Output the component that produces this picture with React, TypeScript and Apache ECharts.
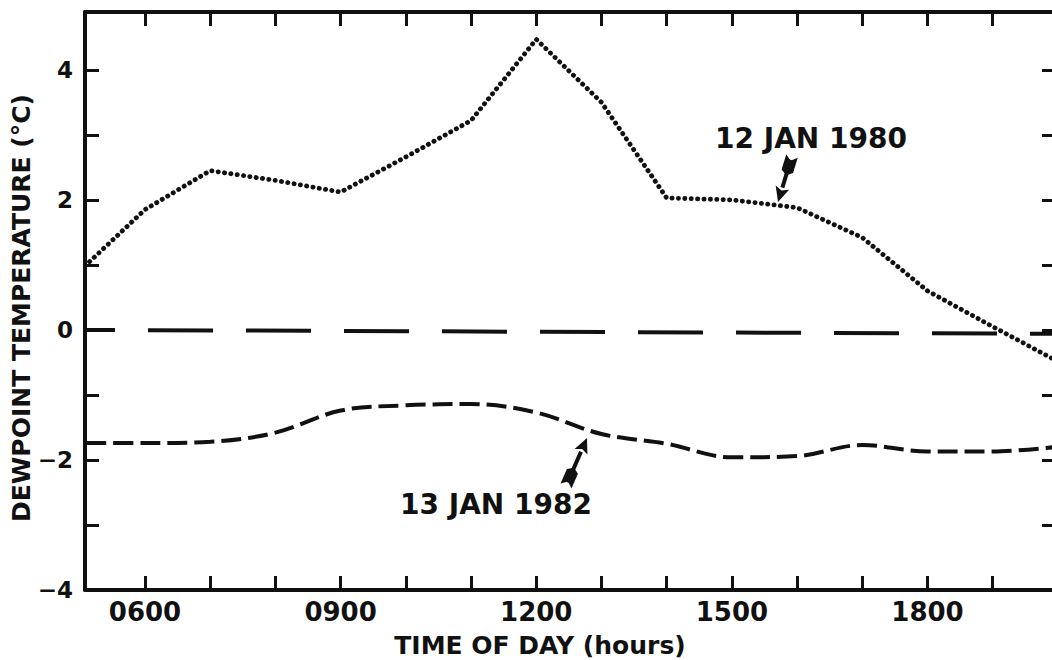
import React, { useEffect, useRef } from "react";
import * as echarts from "echarts";

// ---- data ----
const xMin = 5.08;
const xMax = 19.97;
const yMin = -4;
const yMax = 4.89;

const hourTicks = [6, 7, 8, 9, 10, 11, 12, 13, 14, 15, 16, 17, 18, 19];
const hourLabels = [6, 9, 12, 15, 18];
const tempTicks = [-4, -3, -2, -1, 0, 1, 2, 3, 4];
const tempLabels = [-4, -2, 0, 2, 4];

const hours1980 = [5.15, 6, 7, 8, 9, 10, 11, 12, 13, 14, 15, 16, 17, 18, 19, 19.97];
const dew1980 = [1.05, 1.85, 2.45, 2.3, 2.12, 2.66, 3.22, 4.47, 3.5, 2.03, 2.0, 1.88, 1.42, 0.6, 0.05, -0.47];

const hoursZero = [5.08, 19.97];
const dewZero = [0, -0.06];

const hours1982 = [5.1, 6, 7, 8, 9, 10, 11, 12, 13, 14, 15, 16, 17, 18, 19, 19.97];
const dew1982 = [-1.74, -1.74, -1.72, -1.58, -1.24, -1.16, -1.14, -1.27, -1.6, -1.75, -1.96, -1.94, -1.77, -1.87, -1.87, -1.8];

const label1980 = "12 JAN 1980";
const label1982 = "13 JAN 1982";
const xTitle = "TIME OF DAY (hours)";
const yTitle = "DEWPOINT TEMPERATURE (°C)";

const FONT = '"DejaVu Sans", "Liberation Sans", sans-serif';

function pairs(xs: number[], ys: number[]) {
  return xs.map((x, i) => [x, ys[i]]);
}

function arrow(tail: [number, number], tip: [number, number]) {
  const dx = tip[0] - tail[0];
  const dy = tip[1] - tail[1];
  const len = Math.sqrt(dx * dx + dy * dy);
  const ux = dx / len;
  const uy = dy / len;
  const px = -uy;
  const py = ux;
  const headLen = 15;
  const headW = 7;
  const baseX = tip[0] - ux * headLen;
  const baseY = tip[1] - uy * headLen;
  const at = (d: number, s: number): [number, number] => [
    tail[0] + ux * d + px * s,
    tail[1] + uy * d + py * s,
  ];
  return [
    {
      type: "line",
      shape: { x1: tail[0] + ux * 4, y1: tail[1] + uy * 4, x2: baseX, y2: baseY },
      style: { stroke: "#111", lineWidth: 4 },
    },
    {
      type: "polygon",
      shape: {
        points: [
          [tip[0], tip[1]],
          [baseX + px * headW, baseY + py * headW],
          [baseX + ux * 3, baseY + uy * 3],
          [baseX - px * headW, baseY - py * headW],
        ],
      },
      style: { fill: "#111" },
    },
    {
      type: "polygon",
      shape: {
        points: [at(0, -6), at(5, 0), at(0, 6), at(16, 6), at(20, 0), at(16, -6)],
      },
      style: { fill: "#111" },
    },
  ];
}

export default function App() {
  const ref = useRef<HTMLDivElement>(null);

  useEffect(() => {
    if (!ref.current) return;
    const chart = echarts.init(ref.current, undefined, { renderer: "svg" });

    const axisLine = { show: true, onZero: false, lineStyle: { color: "#111", width: 4 } };
    const tick = {
      show: true,
      inside: true,
      length: 14,
      lineStyle: { color: "#111", width: 3 },
    };

    const option: any = {
      animation: false,
      backgroundColor: "#ffffff",
      grid: { left: 85, right: 4, top: 12, bottom: 70, containLabel: false },
      xAxis: [
        {
          type: "value",
          position: "bottom",
          min: xMin,
          max: xMax,
          axisLine,
          axisTick: { ...tick, customValues: hourTicks },
          axisLabel: {
            show: true,
            customValues: hourLabels,
            formatter: (v: number) => String(Math.round(v * 100)).padStart(4, "0"),
            color: "#111",
            fontFamily: FONT,
            fontWeight: "bold",
            fontSize: 26,
            margin: 9,
          },
          splitLine: { show: false },
        },
        {
          type: "value",
          position: "top",
          min: xMin,
          max: xMax,
          axisLine,
          axisTick: { ...tick, customValues: hourTicks },
          axisLabel: { show: false },
          splitLine: { show: false },
        },
      ],
      yAxis: [
        {
          type: "value",
          position: "left",
          min: yMin,
          max: yMax,
          axisLine,
          axisTick: { ...tick, customValues: tempTicks },
          axisLabel: {
            show: true,
            customValues: tempLabels,
            formatter: (v: number) => (v < 0 ? "\u2212" + Math.abs(v) : String(v)),
            color: "#111",
            fontFamily: FONT,
            fontWeight: "bold",
            fontSize: 23,
            margin: 12,
          },
          splitLine: { show: false },
        },
        {
          type: "value",
          position: "right",
          min: yMin,
          max: yMax,
          axisLine,
          axisTick: { ...tick, customValues: tempTicks },
          axisLabel: { show: false },
          splitLine: { show: false },
        },
      ],
      series: [
        {
          name: label1980,
          type: "line",
          xAxisIndex: 0,
          yAxisIndex: 0,
          data: pairs(hours1980, dew1980),
          showSymbol: false,
          lineStyle: { color: "#111", width: 4.8, type: [0.2, 6.2], cap: "round" },
        },
        {
          name: "zero",
          type: "line",
          xAxisIndex: 0,
          yAxisIndex: 0,
          data: pairs(hoursZero, dewZero),
          showSymbol: false,
          lineStyle: { color: "#111", width: 4, type: [65, 33], dashOffset: 35 },
        },
        {
          name: label1982,
          type: "line",
          xAxisIndex: 0,
          yAxisIndex: 0,
          data: pairs(hours1982, dew1982),
          showSymbol: false,
          smooth: 0.35,
          lineStyle: { color: "#111", width: 4, type: [20, 7] },
        },
      ],
      graphic: [
        {
          type: "text",
          x: 715,
          y: 138,
          style: {
            text: label1980,
            font: `bold 28px ${FONT}`,
            fill: "#111",
            textAlign: "left",
            textVerticalAlign: "middle",
          },
        },
        {
          type: "text",
          x: 400,
          y: 504,
          style: {
            text: label1982,
            font: `bold 28px ${FONT}`,
            fill: "#111",
            textAlign: "left",
            textVerticalAlign: "middle",
          },
        },
        {
          type: "text",
          x: 540,
          y: 645,
          style: {
            text: xTitle,
            font: `bold 25px ${FONT}`,
            fill: "#111",
            textAlign: "center",
            textVerticalAlign: "middle",
          },
        },
        {
          type: "text",
          x: 21,
          y: 308,
          rotation: Math.PI / 2,
          style: {
            text: yTitle,
            font: `bold 25px ${FONT}`,
            fill: "#111",
            textAlign: "center",
            textVerticalAlign: "middle",
          },
        },
        ...arrow([792, 156], [778, 202]),
        ...arrow([566, 486], [587, 438]),
      ],
    };

    chart.setOption(option);
    return () => chart.dispose();
  }, []);

  return (
    <div style={{ position: "fixed", left: 0, top: 0, right: 0, bottom: 0, overflow: "hidden", background: "#fff" }}>
      <div ref={ref} style={{ width: 1060, height: 660 }} />
    </div>
  );
}
